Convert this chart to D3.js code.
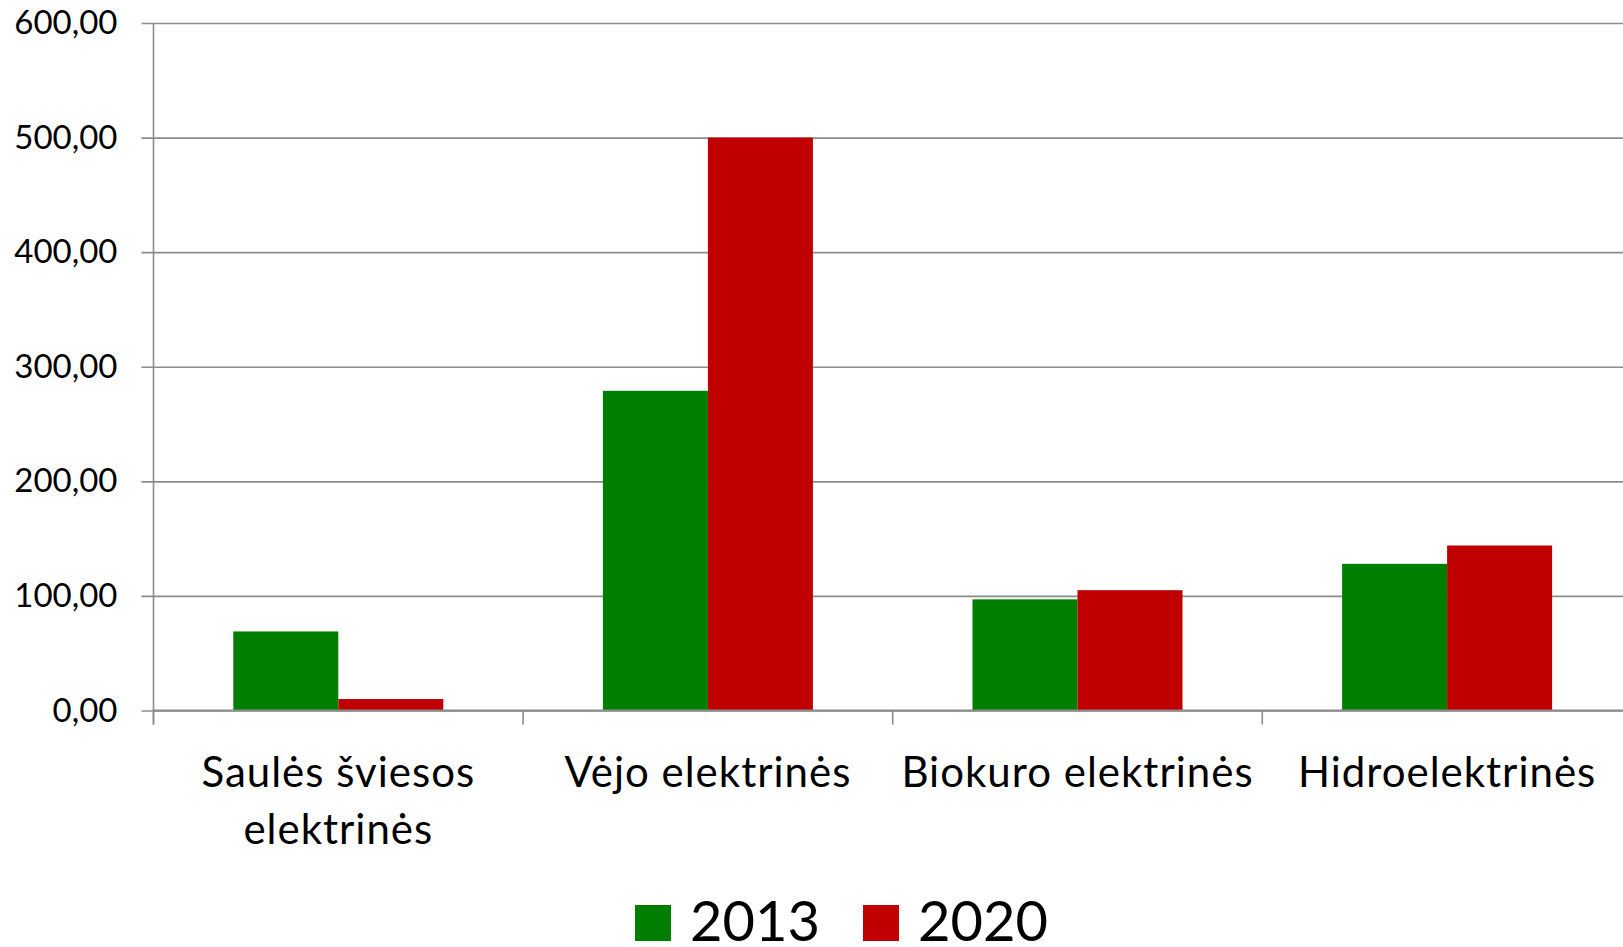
<!DOCTYPE html>
<html>
<head>
<meta charset="utf-8">
<script src="https://cdn.jsdelivr.net/npm/d3@7"></script>
<style>
  html, body { margin: 0; padding: 0; background: #fff; }
  svg { display: block; font-family: Lato, "Open Sans", sans-serif; }
</style>
</head>
<body>
<svg id="chart" width="1623" height="947"></svg>
<script>
const categories = [["Saulės šviesos", "elektrinės"], ["Vėjo elektrinės"], ["Biokuro elektrinės"], ["Hidroelektrinės"]];
const seriesNames = ["2013", "2020"];
const values2013 = [69, 279, 97, 128];
const values2020 = [10, 500, 105, 144];
const seriesColors = ["#007e00", "#c00000"];
const yTicks = [0, 100, 200, 300, 400, 500, 600];

(function () {
const svg = d3.select("#chart");
const mLeft = 153.5, mTop = 23, zeroY = 710.5;
const bandW = 369.6;
const plotW = bandW * categories.length;
const plotH = zeroY - mTop;

const catKeys = categories.map(c => c.join(" "));
const x = d3.scaleBand().domain(catKeys).range([0, plotW]).paddingInner(0).paddingOuter(0);
const xSub = d3.scaleBand().domain(seriesNames).range([0, x.bandwidth()]).paddingInner(0).paddingOuter(0.76);
const y = d3.scaleLinear().domain([0, 600]).range([plotH, 0]);

const g = svg.append("g").attr("transform", `translate(${mLeft},${mTop})`);

const locale = d3.formatLocale({decimal: ",", thousands: " ", grouping: [3], currency: ["", ""]});
const fmt = locale.format(".2f");

// Y axis with gridlines
const yAxis = d3.axisLeft(y).tickValues(yTicks).tickSize(-plotW - 20).tickPadding(36).tickFormat(fmt);
const yg = g.append("g").call(yAxis);
yg.select(".domain").remove();
yg.selectAll(".tick line").attr("x1", -12).attr("stroke", "#8c8c8c").attr("stroke-width", 1.6);
yg.selectAll(".tick text").attr("font-size", 33).attr("fill", "#000").attr("font-family", "Lato, sans-serif");

// vertical axis line
g.append("line").attr("x1", 0).attr("x2", 0).attr("y1", 0).attr("y2", plotH + 14)
  .attr("stroke", "#8c8c8c").attr("stroke-width", 1.6);

// Bars
const series = [values2013, values2020];
const groups = g.append("g").selectAll("g").data(catKeys).join("g")
  .attr("transform", d => `translate(${x(d)},0)`);
groups.selectAll("rect")
  .data((d, i) => seriesNames.map((s, j) => ({s, v: series[j][i], c: seriesColors[j]})))
  .join("rect")
  .attr("x", d => xSub(d.s))
  .attr("width", xSub.bandwidth())
  .attr("y", d => y(d.v))
  .attr("height", d => plotH - y(d.v))
  .attr("fill", d => d.c);

// X axis line and boundary ticks
const xAxis = d3.axisBottom(x).tickSize(0).tickFormat("");
const xg = g.append("g").attr("transform", `translate(0,${plotH})`).call(xAxis);
xg.select(".domain").attr("stroke", "#8c8c8c").attr("stroke-width", 2).attr("d", `M0,0H${plotW + 20}`);
xg.selectAll(".tick").remove();
const bounds = catKeys.map(k => x(k)).concat([plotW]);
g.append("g").selectAll("line").data(bounds).join("line")
  .attr("x1", d => d).attr("x2", d => d)
  .attr("y1", plotH).attr("y2", plotH + 14)
  .attr("stroke", "#8c8c8c").attr("stroke-width", 1.6);

// Category labels
const labG = g.append("g");
categories.forEach((lines, i) => {
  const cx = x(catKeys[i]) + x.bandwidth() / 2;
  const t = labG.append("text").attr("text-anchor", "middle").attr("font-size", 42)
    .attr("letter-spacing", 1).attr("fill", "#000");
  lines.forEach((ln, j) => {
    t.append("tspan").attr("x", cx).attr("y", plotH + 76.5 + j * 57).text(ln);
  });
});

// Legend
const legend = svg.append("g");
const legX = [635, 863];
seriesNames.forEach((s, i) => {
  legend.append("rect").attr("x", legX[i]).attr("y", 905).attr("width", 36).attr("height", 36).attr("fill", seriesColors[i]);
  legend.append("text").attr("x", legX[i] + 55).attr("y", 941).attr("font-size", 56).attr("fill", "#000").text(s);
});
})();
</script>
</body>
</html>
